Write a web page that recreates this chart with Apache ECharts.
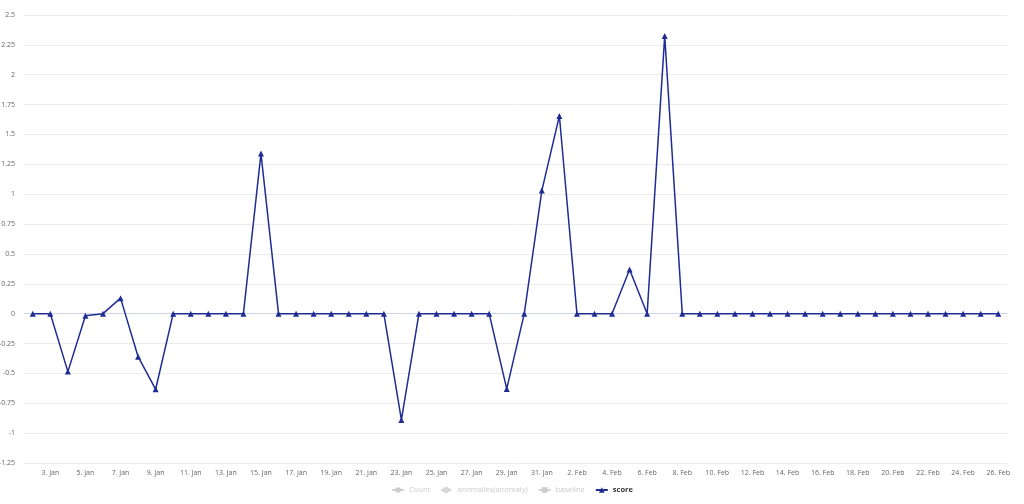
<!DOCTYPE html>
<html>
<head>
<meta charset="utf-8">
<script src="https://cdn.jsdelivr.net/npm/echarts@6/dist/echarts.min.js"></script>
<style>html,body{margin:0;padding:0;background:#fff}#c{width:1024px;height:504px}</style>
</head>
<body>
<div id="c"></div>
<script>
const categories = ['2. Jan','3. Jan','4. Jan','5. Jan','6. Jan','7. Jan','8. Jan','9. Jan','10. Jan','11. Jan','12. Jan','13. Jan','14. Jan','15. Jan','16. Jan','17. Jan','18. Jan','19. Jan','20. Jan','21. Jan','22. Jan','23. Jan','24. Jan','25. Jan','26. Jan','27. Jan','28. Jan','29. Jan','30. Jan','31. Jan','1. Feb','2. Feb','3. Feb','4. Feb','5. Feb','6. Feb','7. Feb','8. Feb','9. Feb','10. Feb','11. Feb','12. Feb','13. Feb','14. Feb','15. Feb','16. Feb','17. Feb','18. Feb','19. Feb','20. Feb','21. Feb','22. Feb','23. Feb','24. Feb','25. Feb','26. Feb'];
const scoreValues = [0,0,-0.485,-0.017,0,0.13,-0.36,-0.633,0,0,0,0,0,1.34,0,0,0,0,0,0,0,-0.89,0,0,0,0,0,-0.63,0,1.03,1.655,0,0,0,0.37,0,2.325,0,0,0,0,0,0,0,0,0,0,0,0,0,0,0,0,0,0,0];
const countValues = [];
const anomalyValues = [];
const baselineValues = [];
const seriesNames = ['Count','anomalies(anomaly)','baseline','score'];

const chart = echarts.init(document.getElementById('c'));
const oddIdx = (i) => i % 2 === 1;
chart.setOption({
  animation: false,
  textStyle: { fontFamily: 'Open Sans, sans-serif' },
  grid: { left: 24, right: 17, top: 15, bottom: 41, containLabel: false, outerBoundsMode: 'none' },
  legend: {
    bottom: 5,
    itemWidth: 12, itemHeight: 7, itemGap: 10,
    inactiveColor: '#cccccc',
    textStyle: { fontSize: 7.5, color: '#333', fontWeight: 'bold' },
    data: [
      { name: seriesNames[0], textStyle: { fontWeight: 'normal' } },
      { name: seriesNames[1], textStyle: { fontWeight: 'normal' } },
      { name: seriesNames[2], textStyle: { fontWeight: 'normal' } },
      { name: seriesNames[3] }
    ],
    selected: { 'Count': false, 'anomalies(anomaly)': false, 'baseline': false, 'score': true }
  },
  xAxis: {
    type: 'category',
    data: categories,
    boundaryGap: true,
    axisLine: { lineStyle: { color: '#ccd6eb' } },
    axisTick: { alignWithLabel: true, interval: oddIdx, length: 5, lineStyle: { color: '#ccd6eb' } },
    axisLabel: { interval: oddIdx, fontSize: 7, color: '#666', margin: 6 }
  },
  yAxis: {
    type: 'value',
    min: -1.25, max: 2.5, interval: 0.25,
    axisLine: { show: false },
    axisTick: { show: false },
    axisLabel: { fontSize: 7, color: '#666', margin: 9 },
    splitLine: { lineStyle: { color: '#ececec' } }
  },
  series: [
    { name: 'Count', type: 'line', data: countValues, symbol: 'circle', color: '#7cb5ec' },
    { name: 'anomalies(anomaly)', type: 'scatter', data: anomalyValues, symbol: 'diamond', color: '#434348' },
    { name: 'baseline', type: 'line', data: baselineValues, symbol: 'rect', color: '#90ed7d' },
    { name: 'score', type: 'line', data: scoreValues, symbol: 'triangle', symbolSize: 6,
      color: '#1f2c93', lineStyle: { width: 1.5, color: '#1f2c93' }, itemStyle: { color: '#1f2c93' } }
  ]
});
</script>
</body>
</html>
